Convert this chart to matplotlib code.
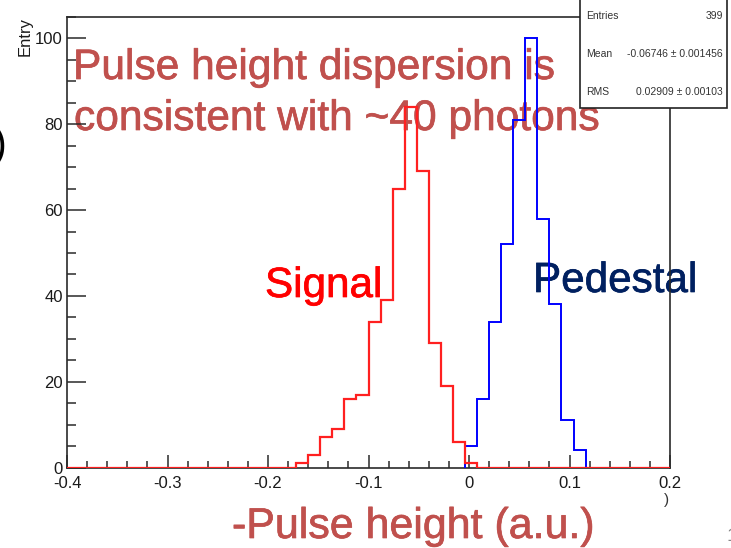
import numpy as np
import matplotlib
matplotlib.use("Agg")
import matplotlib.pyplot as plt
import matplotlib.patheffects as pe
from matplotlib.patches import Rectangle
from matplotlib.ticker import FixedLocator, FixedFormatter, MultipleLocator

plt.rcParams['font.family'] = ['Liberation Sans', 'DejaVu Sans']
plt.rcParams['axes.unicode_minus'] = False

# Histogram binning: 50 bins over [-0.4, 0.2]
n_bins = 50
x_min, x_max = -0.4, 0.2

# Signal (red): counts in consecutive bins starting at bin index 19
signal_first_bin = 19
signal_counts = [1, 3, 7, 9, 16, 17, 34, 39, 65, 84, 69, 29, 19, 6, 1]

# Pedestal (blue): counts in consecutive bins starting at bin index 33
pedestal_first_bin = 33
pedestal_counts = [5, 16, 34, 52, 81, 100, 58, 38, 11, 4]

x_ticks = [-0.4, -0.3, -0.2, -0.1, 0.0, 0.1, 0.2]
x_tick_labels = ["-0.4", "-0.3", "-0.2", "-0.1", "0", "0.1", "0.2"]
y_ticks = [0, 20, 40, 60, 80, 100]
y_tick_labels = ["0", "20", "40", "60", "80", "100"]

stats_rows = [("Entries", "399"),
              ("Mean", "-0.06746 \u00b1 0.001456"),
              ("RMS", "0.02909 \u00b1 0.00103")]

edges = np.linspace(x_min, x_max, n_bins + 1)
signal_full = np.zeros(n_bins)
signal_full[signal_first_bin:signal_first_bin + len(signal_counts)] = signal_counts
ped_edges = edges[pedestal_first_bin:pedestal_first_bin + len(pedestal_counts) + 1]

W, H = 731, 548
fig = plt.figure(figsize=(W / 100, H / 100), dpi=100)

def fx(px):
    return px / W

def fy(py):
    return 1 - py / H

ax = fig.add_axes([fx(67), fy(467.5), fx(670) - fx(67), fy(17) - fy(467.5)])
ax.set_facecolor('none')

frame_col = '#2a2a2a'
ax.stairs(pedestal_counts, ped_edges, baseline=0, color='#0000ff', lw=1.4, zorder=3)
ax.stairs(signal_full, edges, baseline=0, color='#ff2020', lw=1.6, zorder=3.5)

ax.set_xlim(x_min, x_max)
ax.set_ylim(0, 105)
for s in ax.spines.values():
    s.set_color(frame_col)
    s.set_linewidth(1.2)

ax.xaxis.set_major_locator(FixedLocator(x_ticks))
ax.xaxis.set_major_formatter(FixedFormatter(x_tick_labels))
ax.xaxis.set_minor_locator(MultipleLocator(0.02))
ax.yaxis.set_major_locator(FixedLocator(y_ticks))
ax.yaxis.set_major_formatter(FixedFormatter(y_tick_labels))
ax.yaxis.set_minor_locator(MultipleLocator(5))

ax.tick_params(axis='x', which='major', direction='in', length=9.5, width=1.1,
               color=frame_col, labelsize=12, labelcolor='#1a1a1a', pad=6)
ax.tick_params(axis='x', which='minor', direction='in', length=4.7, width=1.1, color=frame_col)
ax.tick_params(axis='y', which='major', direction='in', length=13.7, width=1.1,
               color=frame_col, labelsize=12, labelcolor='#1a1a1a', pad=3)
ax.tick_params(axis='y', which='minor', direction='in', length=6.8, width=1.1, color=frame_col)

fig.text(fx(25), fy(17), "Entry", rotation=90, ha='center', va='top',
         fontsize=12, color='#1a1a1a')

# Stats box
box = Rectangle((fx(580), fy(108)), fx(727) - fx(580), fy(-5) - fy(108),
                transform=fig.transFigure, facecolor='white', edgecolor='#222222',
                lw=1.2, zorder=5)
fig.patches.append(box)
for i, (name, val) in enumerate(stats_rows):
    yy = fy(16 + 38 * i)
    fig.text(fx(586), yy, name, ha='left', va='center', fontsize=7.5, color='#333333', zorder=6)
    fig.text(fx(723), yy, val, ha='right', va='center', fontsize=7.5, color='#333333', zorder=6)

# Slide annotations (behind the plot lines)
def note(x, y, s, color, size):
    fig.text(fx(x), fy(y), s, fontsize=size, color=color, ha='left', va='baseline',
             zorder=-1, path_effects=[pe.withStroke(linewidth=0.5, foreground=color)])

note_col = '#C0504D'
note(73, 79, "Pulse height dispersion is", note_col, 30.6)
note(74, 130, "consistent with ~40 photons", note_col, 30.6)
note(265, 297, "Signal", '#FF0000', 30.4)
note(533, 292, "Pedestal", '#002060', 30.4)
note(232, 538, "-Pulse height (a.u.)", note_col, 30.9)

fig.text(fx(667), fy(500), ")", fontsize=11, color='#333333', ha='center', va='center')
fig.text(fx(7), fy(146), ")", fontsize=30, color='black', ha='right', va='center')
fig.text(fx(726.5), fy(541), "1", fontsize=14, color='#888888', ha='left', va='baseline')

fig.savefig("out.png", dpi=100)
